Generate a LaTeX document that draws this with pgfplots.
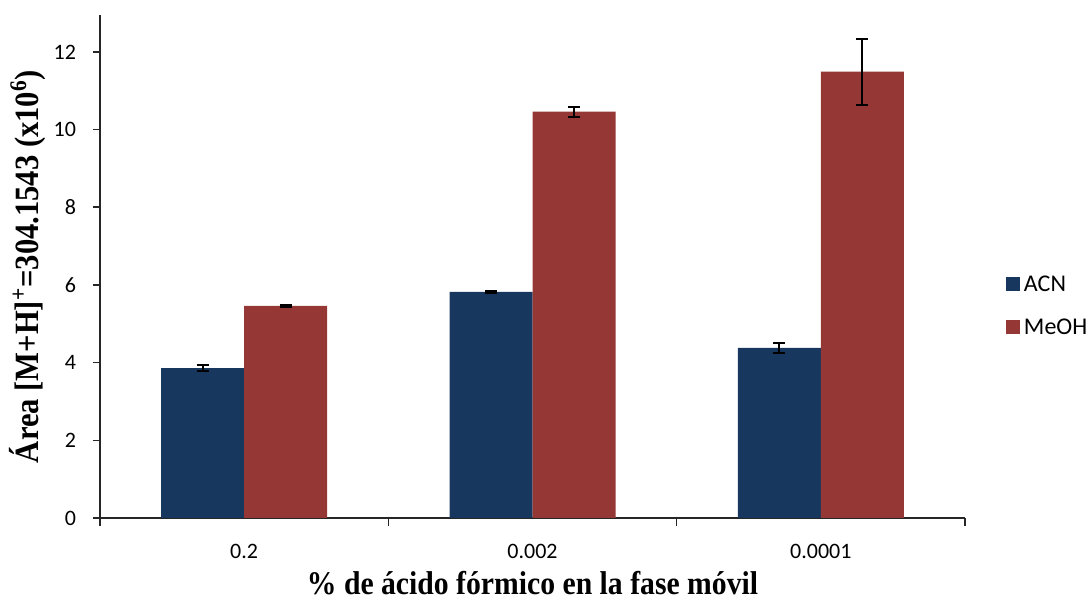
\documentclass[border=0pt]{standalone}
\usepackage{fontspec}
\setmainfont{Liberation Serif}
\newfontfamily\calibri{Carlito}
\newfontfamily\lblfont[FakeStretch=0.9]{Liberation Serif}
\usepackage{pgfplots}
\pgfplotsset{compat=1.18}
\definecolor{acn}{RGB}{23,55,94}
\definecolor{meoh}{RGB}{149,55,53}
\begin{document}
\begin{tikzpicture}
\useasboundingbox (-50pt,-43pt) rectangle (494.5pt,259pt);
\begin{axis}[
  at={(0pt,0pt)}, anchor=south west,
  scale only axis,
  width=432.5pt, height=251.5pt,
  ybar=0pt, bar width=41.5pt,
  xmin=-0.5, xmax=2.5,
  ymin=0, ymax=12.95,
  axis x line*=bottom, axis y line*=left,
  axis line style={-, line width=0.8pt, black!85},
  xtick={0,1,2},
  xticklabels={0.2,0.002,0.0001},
  major x tick style={draw=none},
  minor xtick={-0.5,0.5,1.5,2.5},
  minor tick length=4pt,
  minor x tick style={line width=0.8pt, black!85},
  ytick={0,2,4,6,8,10,12},
  major tick length=3.5pt,
  tick align=outside,
  y tick style={line width=0.8pt, black!85},
  /pgf/number format/assume math mode=true,
  ticklabel style={font=\calibri\fontsize{11}{13}\selectfont},
  xticklabel style={yshift=-6pt},
  yticklabel style={xshift=-5pt},
  xlabel={\lblfont\bfseries\fontsize{16.5}{18}\selectfont \% de ácido fórmico en la fase móvil},
  ylabel={\lblfont\bfseries\fontsize{17}{19}\selectfont Área [M+H]\textsuperscript{+}=304.1543 (x10\textsuperscript{6})},
  xlabel style={yshift=0.5pt},
  ylabel style={yshift=-3pt},
  legend style={at={(1.04,0.42)}, anchor=west, draw=none, fill=none,
    font=\calibri\fontsize{12}{14}\selectfont, row sep=8pt,
    /tikz/every even column/.append style={column sep=2pt}},
  legend image code/.code={\fill[#1] (0pt,-3pt) rectangle (7pt,4pt);},
  legend cell align=left,
  error bars/y dir=both, error bars/y explicit,
  error bars/error bar style={line width=0.9pt, black},
  error bars/error mark options={rotate=90, mark size=3pt, line width=0.9pt, black},
]
\addplot[fill=acn, draw=none] coordinates {
  (0,3.86) +- (0,0.08)
  (1,5.82) +- (0,0.03)
  (2,4.38) +- (0,0.13)
};
\addplot[fill=meoh, draw=none] coordinates {
  (0,5.46) +- (0,0.03)
  (1,10.46) +- (0,0.13)
  (2,11.49) +- (0,0.85)
};
\legend{ACN, MeOH}
\end{axis}
\end{tikzpicture}
\end{document}
